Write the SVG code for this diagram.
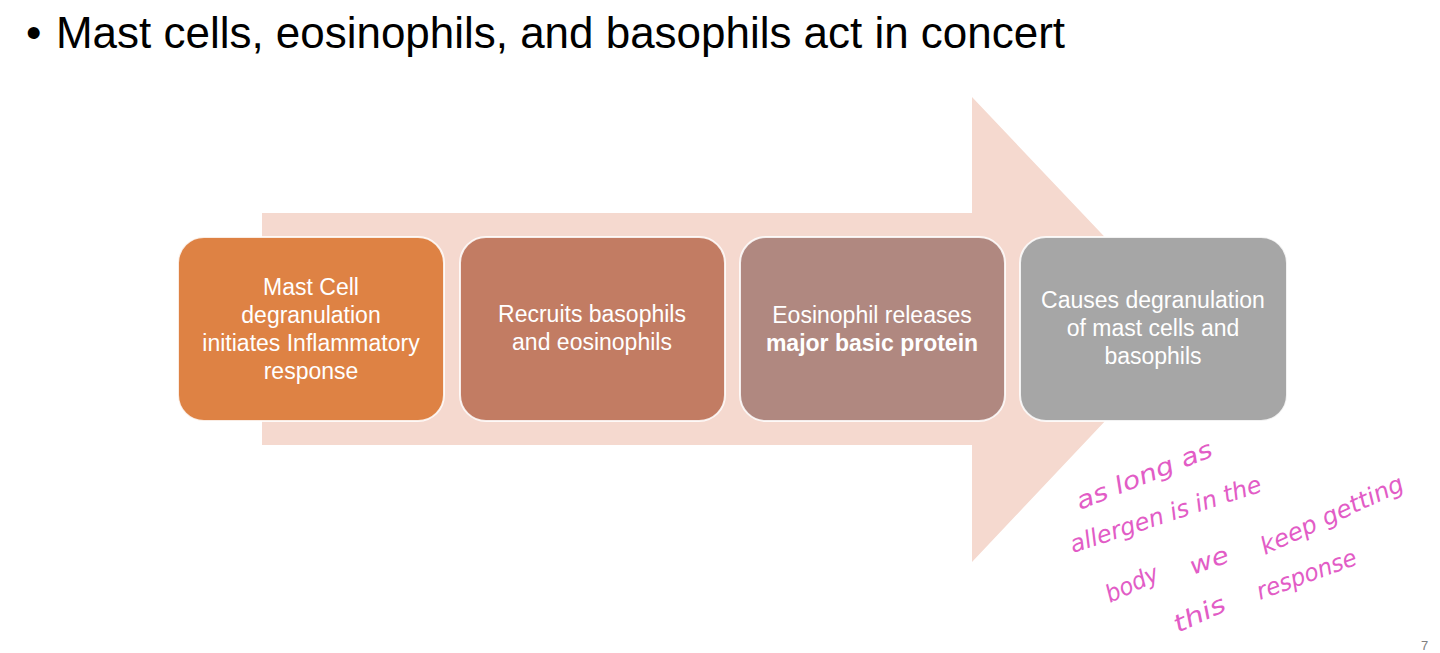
<svg xmlns="http://www.w3.org/2000/svg" width="1440" height="653" viewBox="0 0 1440 653">
<style>
.box{stroke:#ffffff;stroke-width:2;stroke-opacity:0.85}
.bt{font-family:"Liberation Sans",Arial,sans-serif;font-size:23px;fill:#ffffff;text-anchor:middle}
.hw{font-family:"DejaVu Sans","Noto Sans",sans-serif;font-size:24px;fill:#e25cc6;font-weight:200;font-style:italic}
</style>
<rect width="1440" height="653" fill="#ffffff"/>
<text x="26" y="48" font-family="Liberation Sans, Arial, sans-serif" font-size="44" fill="#000000">•</text>
<text x="56" y="48" font-family="Liberation Sans, Arial, sans-serif" font-size="44" fill="#000000" textLength="1009" lengthAdjust="spacingAndGlyphs">Mast cells, eosinophils, and basophils act in concert</text>
<g id="connectors">
<polygon points="262,213 972,213 972,97 1192,329 972,562 972,445 262,445" fill="#f5d9cf"/>
</g>
<g id="node1">
<rect class="box" x="178" y="237" width="266" height="184" rx="26" fill="#de8244"/>
<text class="bt" x="311" y="295">Mast Cell</text>
<text class="bt" x="311" y="323">degranulation</text>
<text class="bt" x="311" y="351">initiates Inflammatory</text>
<text class="bt" x="311" y="379">response</text>
</g>
<g id="node2">
<rect class="box" x="460" y="237" width="265" height="184" rx="26" fill="#c27c63"/>
<text class="bt" x="592" y="322">Recruits basophils</text>
<text class="bt" x="592" y="350">and eosinophils</text>
</g>
<g id="node3">
<rect class="box" x="740" y="237" width="265" height="184" rx="26" fill="#b08880"/>
<text class="bt" x="872" y="323">Eosinophil releases</text>
<text class="bt" x="872" y="351" font-weight="bold">major basic protein</text>
</g>
<g id="node4">
<rect class="box" x="1020" y="237" width="267" height="184" rx="26" fill="#a6a6a6"/>
<text class="bt" x="1153" y="308">Causes degranulation</text>
<text class="bt" x="1153" y="336">of mast cells and</text>
<text class="bt" x="1153" y="364">basophils</text>
</g>
<g id="note">
<text class="hw" transform="translate(1080,510) rotate(-22)" textLength="145" lengthAdjust="spacingAndGlyphs">as long as</text>
<text class="hw" transform="translate(1073,553) rotate(-18)" textLength="200" lengthAdjust="spacingAndGlyphs">allergen is in the</text>
<text class="hw" transform="translate(1110,603) rotate(-25)" textLength="56" lengthAdjust="spacingAndGlyphs">body</text>
<text class="hw" transform="translate(1193,575) rotate(-20)" textLength="40" lengthAdjust="spacingAndGlyphs">we</text>
<text class="hw" transform="translate(1265,555) rotate(-25)" textLength="155" lengthAdjust="spacingAndGlyphs">keep getting</text>
<text class="hw" transform="translate(1178,633) rotate(-25)" textLength="55" lengthAdjust="spacingAndGlyphs">this</text>
<text class="hw" transform="translate(1260,600) rotate(-20)" textLength="105" lengthAdjust="spacingAndGlyphs">response</text>
</g>
<text x="1421" y="650" font-family="Liberation Sans, Arial, sans-serif" font-size="13" fill="#7f7f7f">7</text>
</svg>
